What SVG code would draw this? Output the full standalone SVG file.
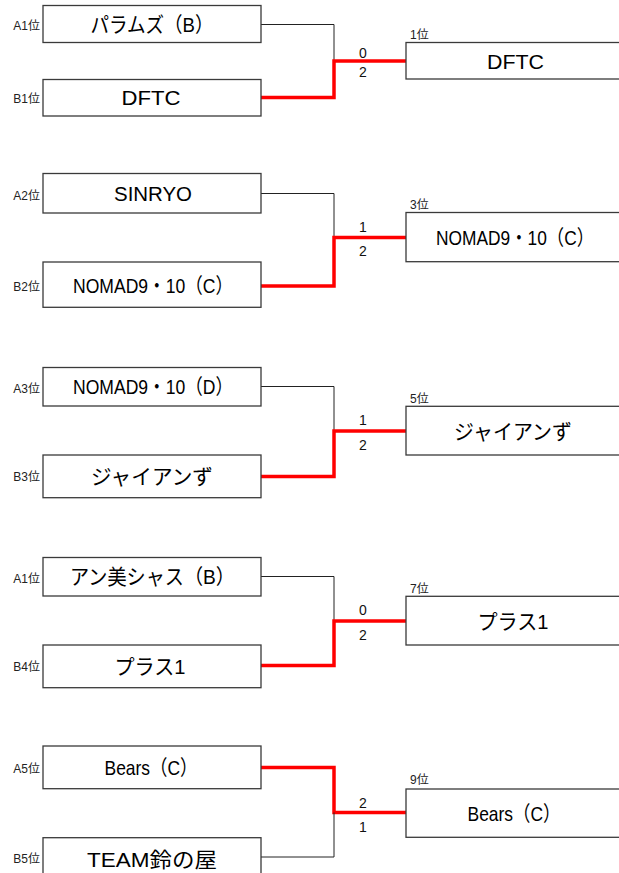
<svg xmlns="http://www.w3.org/2000/svg" width="619" height="873" viewBox="0 0 619 873">
<style>
.box{fill:#fff;stroke:#3a3a3a;stroke-width:1.3}
.t{font-family:"Liberation Sans","Noto Sans CJK JP",sans-serif;font-size:21px;fill:#000;text-anchor:middle}
.lbl{font-family:"Liberation Sans","Noto Sans CJK JP",sans-serif;font-size:12px;fill:#222;text-anchor:end}
.rk{font-family:"Liberation Sans","Noto Sans CJK JP",sans-serif;font-size:12px;fill:#222;text-anchor:start}
.sc{font-family:"Liberation Sans","Noto Sans CJK JP",sans-serif;font-size:14px;fill:#111;text-anchor:middle}
.ln{fill:none;stroke:#222;stroke-width:1}
.win{fill:none;stroke:#ff0000;stroke-width:3.5;stroke-linecap:square}
</style>
<rect width="619" height="873" fill="#fff"/>
<g id="connectors">
<polyline class="ln" points="261,24.5 334,24.5 334,61"/>
<polyline class="win" points="262,97.5 334,97.5 334,61 405,61"/>
<polyline class="ln" points="261,193.5 334,193.5 334,237.5"/>
<polyline class="win" points="262,286 334,286 334,237.5 405,237.5"/>
<polyline class="ln" points="261,386.5 334,386.5 334,431"/>
<polyline class="win" points="262,476.5 334,476.5 334,431 405,431"/>
<polyline class="ln" points="261,576.5 334,576.5 334,621"/>
<polyline class="win" points="262,665.5 334,665.5 334,621 405,621"/>
<polyline class="win" points="262,767.5 334,767.5 334,812.5 405,812.5"/>
<polyline class="ln" points="261,857 334,857 334,812.5"/>
<text class="sc" x="363" y="58">0</text>
<text class="sc" x="363" y="77">2</text>
<text class="sc" x="363" y="232">1</text>
<text class="sc" x="363" y="256">2</text>
<text class="sc" x="363" y="424.5">1</text>
<text class="sc" x="363" y="449.5">2</text>
<text class="sc" x="363" y="614.5">0</text>
<text class="sc" x="363" y="639.5">2</text>
<text class="sc" x="363" y="807.5">2</text>
<text class="sc" x="363" y="832">1</text>
</g>
<g id="A1">
<text class="lbl" x="40" y="30">A1位</text>
<rect class="box" x="43" y="5.5" width="218" height="37"/>
<text class="t" x="152" y="31.5" textLength="123" lengthAdjust="spacingAndGlyphs">パラムズ（B）</text>
</g>
<g id="B1">
<text class="lbl" x="40" y="102.5">B1位</text>
<rect class="box" x="43" y="79.5" width="218" height="36.5"/>
<text class="t" x="151" y="105" textLength="59" lengthAdjust="spacingAndGlyphs">DFTC</text>
</g>
<g id="W1">
<text class="rk" x="410" y="38.5">1位</text>
<rect class="box" x="406" y="42.5" width="219" height="36.5"/>
<text class="t" x="515.5" y="68.5" textLength="57" lengthAdjust="spacingAndGlyphs">DFTC</text>
</g>
<g id="A2">
<text class="lbl" x="40" y="199.5">A2位</text>
<rect class="box" x="43" y="173.5" width="218" height="39.5"/>
<text class="t" x="153" y="200.5" textLength="78" lengthAdjust="spacingAndGlyphs">SINRYO</text>
</g>
<g id="B2">
<text class="lbl" x="40" y="291">B2位</text>
<rect class="box" x="43" y="262" width="218" height="45.3"/>
<text class="t" x="153" y="292.5" textLength="160" lengthAdjust="spacingAndGlyphs">NOMAD9・10（C）</text>
</g>
<g id="W2">
<text class="rk" x="410" y="209">3位</text>
<rect class="box" x="406" y="212.5" width="219" height="49.2"/>
<text class="t" x="515" y="244.5" textLength="158" lengthAdjust="spacingAndGlyphs">NOMAD9・10（C）</text>
</g>
<g id="A3">
<text class="lbl" x="40" y="392.5">A3位</text>
<rect class="box" x="43" y="367.5" width="218" height="38.5"/>
<text class="t" x="153" y="394" textLength="160" lengthAdjust="spacingAndGlyphs">NOMAD9・10（D）</text>
</g>
<g id="B3">
<text class="lbl" x="40" y="481">B3位</text>
<rect class="box" x="43" y="455" width="218" height="42.7"/>
<text class="t" x="152" y="484" textLength="122" lengthAdjust="spacingAndGlyphs">ジャイアンず</text>
</g>
<g id="W3">
<text class="rk" x="410" y="403">5位</text>
<rect class="box" x="406" y="406.3" width="219" height="48.7"/>
<text class="t" x="513" y="438.5" textLength="118" lengthAdjust="spacingAndGlyphs">ジャイアンず</text>
</g>
<g id="A4">
<text class="lbl" x="40" y="582.5">A1位</text>
<rect class="box" x="43" y="557.5" width="218" height="38.5"/>
<text class="t" x="152.5" y="584" textLength="165" lengthAdjust="spacingAndGlyphs">アン美シャス（B）</text>
</g>
<g id="B4">
<text class="lbl" x="40" y="671">B4位</text>
<rect class="box" x="43" y="645" width="218" height="42.7"/>
<text class="t" x="150" y="674" textLength="71" lengthAdjust="spacingAndGlyphs">プラス1</text>
</g>
<g id="W4">
<text class="rk" x="410" y="593">7位</text>
<rect class="box" x="406" y="596.3" width="219" height="48.7"/>
<text class="t" x="513" y="628.5" textLength="71" lengthAdjust="spacingAndGlyphs">プラス1</text>
</g>
<g id="A5">
<text class="lbl" x="40" y="772.5">A5位</text>
<rect class="box" x="43" y="746" width="218" height="42.7"/>
<text class="t" x="151" y="775" textLength="93" lengthAdjust="spacingAndGlyphs">Bears（C）</text>
</g>
<g id="B5">
<text class="lbl" x="40" y="862.5">B5位</text>
<rect class="box" x="43" y="837.7" width="218" height="50"/>
<text class="t" x="152" y="866.5" textLength="130" lengthAdjust="spacingAndGlyphs">TEAM鈴の屋</text>
</g>
<g id="W5">
<text class="rk" x="410" y="784">9位</text>
<rect class="box" x="406" y="789" width="219" height="48.3"/>
<text class="t" x="514" y="820.5" textLength="93" lengthAdjust="spacingAndGlyphs">Bears（C）</text>
</g>
</svg>
